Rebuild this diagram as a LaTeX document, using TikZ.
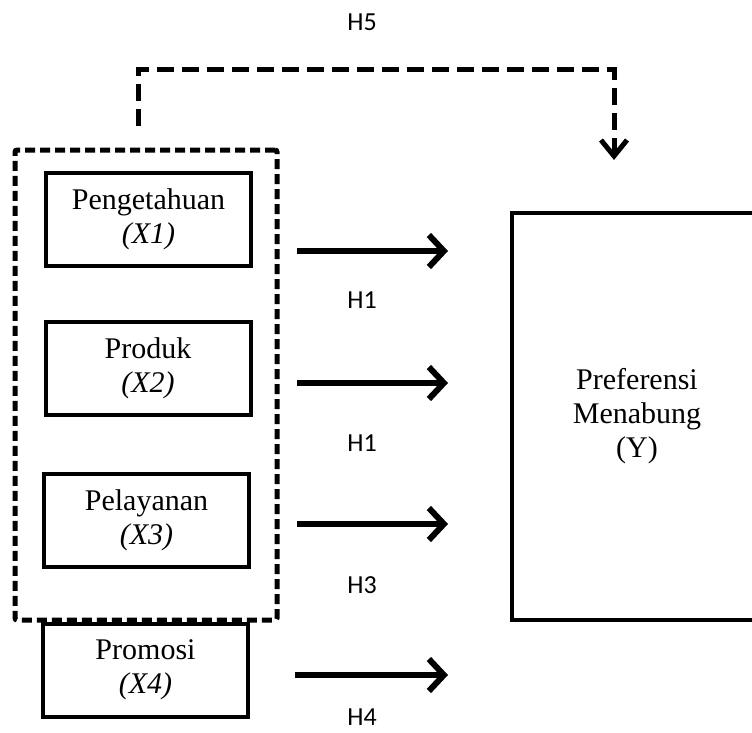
\documentclass[tikz,border=0pt]{standalone}
\usepackage{fontspec}
\setmainfont{Liberation Serif}
\newfontfamily\hfont{Carlito}
\usetikzlibrary{arrows.meta}
\begin{document}
\begin{tikzpicture}[x=1pt,y=-1pt,
  varbox/.style={draw,line width=4pt,minimum width=205pt,minimum height=93pt,inner sep=0pt,align=center,font=\fontsize{30}{34}\selectfont},
  grpbox/.style={draw,line width=5pt,dash pattern=on 10pt off 5pt,rounded corners=2pt,minimum width=262pt,minimum height=470pt,inner sep=0pt},
  hyparrow/.style={line width=6pt,-{Straight Barb[length=15pt,width=32pt,line width=6pt]}},
  dasharrow/.style={line width=5pt,dash pattern=on 17pt off 8pt,-{Straight Barb[length=16pt,width=26pt,line width=5pt]}},
  hlabel/.style={font=\hfont\fontsize{26}{28}\selectfont,inner sep=0pt}]
\useasboundingbox (0,0) rectangle (752,733);
% dashed group
\node[grpbox] (grp) at (146,385) {};
% variable boxes
\node[varbox] (x1) at (148.5,219.5) {Pengetahuan\\\textit{(X1)}};
\node[varbox] (x2) at (148,368.5) {Produk\\\textit{(X2)}};
\node[varbox] (x3) at (146.5,520.5) {Pelayanan\\\textit{(X3)}};
\node[varbox] (x4) at (145.5,670) {Promosi\\\textit{(X4)}};
% dependent box
\node[draw,line width=4pt,minimum width=250pt,minimum height=407pt,inner sep=0pt,align=center,font=\fontsize{30}{34}\selectfont] (y) at (637,416.5) {Preferensi\\Menabung\\(Y)};
% arrow coordinates
\coordinate (a1s) at (297,251); \coordinate (a1e) at (448,251);
\coordinate (a2s) at (297,383); \coordinate (a2e) at (448,383);
\coordinate (a3s) at (297,524); \coordinate (a3e) at (448,524);
\coordinate (a4s) at (295,675); \coordinate (a4e) at (448,675);
\draw[hyparrow] (a1s) -- (a1e);
\draw[hyparrow] (a2s) -- (a2e);
\draw[hyparrow] (a3s) -- (a3e);
\draw[hyparrow] (a4s) -- (a4e);
\node[hlabel] (h1a) at (362,300) {H1};
\node[hlabel] (h1b) at (362,443) {H1};
\node[hlabel] (h3) at (362,585) {H3};
\node[hlabel] (h4) at (362,717) {H4};
% H5 dashed path
\coordinate (h5s) at (138,126);
\coordinate (h5e) at (614,160);
\draw[dasharrow] (h5s) |- (614,70) -- (h5e);
\node[hlabel] (h5) at (362,22) {H5};
\end{tikzpicture}
\end{document}
